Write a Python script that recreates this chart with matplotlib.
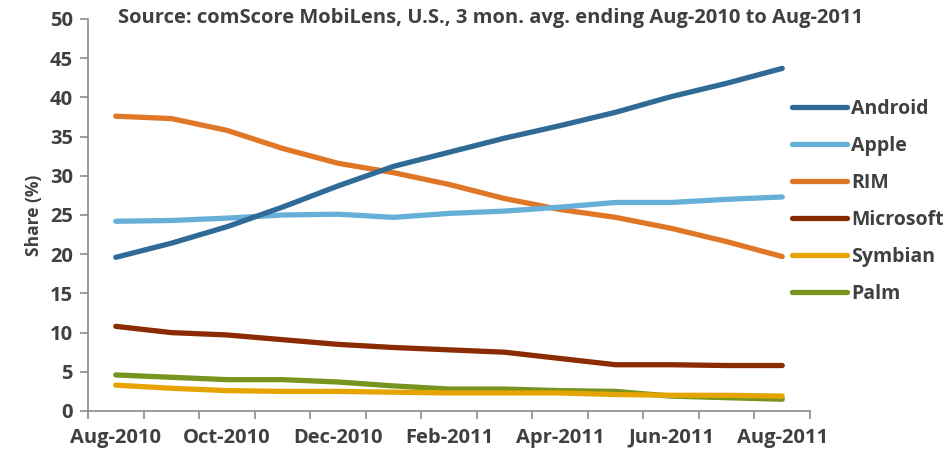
import matplotlib
matplotlib.use("Agg")
import matplotlib.pyplot as plt
from matplotlib.ticker import FixedLocator

months = ["Aug-2010", "Sep-2010", "Oct-2010", "Nov-2010", "Dec-2010", "Jan-2011",
          "Feb-2011", "Mar-2011", "Apr-2011", "May-2011", "Jun-2011", "Jul-2011",
          "Aug-2011"]

android = [19.6, 21.4, 23.5, 26.0, 28.7, 31.2, 33.0, 34.8, 36.4, 38.1, 40.1, 41.8, 43.7]
apple = [24.2, 24.3, 24.6, 25.0, 25.1, 24.7, 25.2, 25.5, 26.0, 26.6, 26.6, 27.0, 27.3]
rim = [37.6, 37.3, 35.8, 33.5, 31.6, 30.4, 28.9, 27.1, 25.7, 24.7, 23.3, 21.6, 19.7]
microsoft = [10.8, 10.0, 9.7, 9.1, 8.5, 8.1, 7.8, 7.5, 6.7, 5.9, 5.9, 5.8, 5.8]
symbian = [3.3, 2.9, 2.6, 2.5, 2.5, 2.4, 2.3, 2.3, 2.3, 2.1, 2.0, 2.0, 1.9]
palm = [4.6, 4.3, 4.0, 4.0, 3.7, 3.2, 2.8, 2.8, 2.6, 2.5, 1.9, 1.7, 1.5]

series = [
    ("Android", android, "#2f6b96"),
    ("Apple", apple, "#66afd8"),
    ("RIM", rim, "#df7727"),
    ("Microsoft", microsoft, "#8a2b03"),
    ("Symbian", symbian, "#e6a400"),
    ("Palm", palm, "#76941e"),
]

txt = "#404040"
grey = "#8c8c8c"
plt.rcParams["font.family"] = ["Open Sans", "DejaVu Sans"]
plt.rcParams["font.weight"] = "bold"

fig = plt.figure(figsize=(9.51, 4.55), dpi=100)
ax = fig.add_axes([88 / 951, 1 - 411 / 455, (810 - 88) / 951, (411 - 19) / 455])

x = list(range(len(months)))
# draw in reverse so Android sits on top like the original
for name, vals, col in series[::-1]:
    ax.plot(x, vals, color=col, lw=3.8, solid_capstyle="round",
            solid_joinstyle="round", label=name)
handles = ax.get_lines()[::-1]

ax.set_xlim(-0.5, len(months) - 0.5)
ax.set_ylim(0, 50)
ax.set_yticks(range(0, 51, 5))
ax.set_xticks(x[::2])
ax.set_xticklabels(months[::2], fontweight="bold")
ax.set_yticklabels([str(v) for v in range(0, 51, 5)], fontweight="bold")
ax.xaxis.set_minor_locator(FixedLocator([i - 0.5 for i in range(len(months) + 1)]))
ax.tick_params(axis="x", which="major", length=0, pad=12, labelsize=14.5, labelcolor=txt)
ax.tick_params(axis="x", which="minor", length=6, width=1.2, color=grey)
ax.tick_params(axis="y", length=6, width=1.2, color=grey, labelsize=14.5,
               labelcolor=txt, pad=5)

for s in ["top", "right"]:
    ax.spines[s].set_visible(False)
for s in ["left", "bottom"]:
    ax.spines[s].set_color(grey)
    ax.spines[s].set_linewidth(1.2)

ax.set_ylabel("Share (%)", fontsize=12.5, fontweight="bold", color=txt, labelpad=5)

fig.text(118 / 951, 1 - 18 / 455,
         "Source: comScore MobiLens, U.S., 3 mon. avg. ending Aug-2010 to Aug-2011",
         fontsize=14.5, fontweight="bold", color=txt, va="center", ha="left")

fig.legend(handles=handles, loc="upper left", bbox_to_anchor=(792 / 951, 1 - 99 / 455),
           frameon=False, prop={"size": 14, "weight": "bold"}, labelcolor=txt,
           handlelength=2.85, handletextpad=0.2, labelspacing=0.87, borderaxespad=0,
           borderpad=0)

fig.savefig("out.png", dpi=100)
